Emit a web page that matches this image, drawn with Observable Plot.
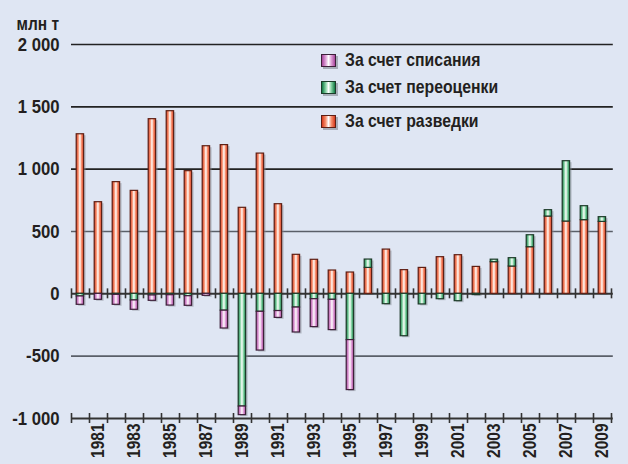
<!DOCTYPE html>
<html><head><meta charset="utf-8">
<script src="https://cdn.jsdelivr.net/npm/d3@7"></script>
<script src="https://cdn.jsdelivr.net/npm/@observablehq/plot@0.6"></script>
<style>
html,body{margin:0;padding:0;background:#dfe6f3;}
#wrap{position:relative;width:628px;height:464px;overflow:hidden;}
.leg{position:absolute;left:321px;height:22px;font:bold 19px "Liberation Sans",Arial,sans-serif;color:#231f20;display:flex;align-items:center;white-space:nowrap}
.sw{width:13px;height:11px;border:1px solid #333;margin-right:9px;box-shadow:2px 2px 0 rgba(120,125,135,.55);flex:none}
.lt{display:inline-block;transform:scaleX(0.83);transform-origin:left center}
</style></head><body><div id="wrap"></div>
<script>
// Categories
const years = [1980,1981,1982,1983,1984,1985,1986,1987,1988,1989,1990,1991,1992,1993,1994,1995,1996,1997,1998,1999,2000,2001,2002,2003,2004,2005,2006,2007,2008,2009];
// За счет разведки (exploration), млн т
const exploration = [1280,735,896,826,1401,1465,984,1184,1193,690,1125,719,313,273,187,171,208,355,190,208,294,310,216,254,219,374,620,580,591,577];
// За счет переоценки (revaluation)
const revaluation = [-21,0,-8,-53,-13,-11,-19,0,-135,-904,-144,-138,-110,-43,-48,-371,67,-83,-340,-85,-43,-59,-10,20,67,96,51,484,112,38];
// За счет списания (write-off)
const writeoff = [-67,-48,-80,-75,-43,-83,-77,-16,-143,-69,-311,-55,-200,-224,-243,-401,0,0,0,0,0,0,0,0,0,0,0,0,0,0];

const yTickValues = [2000,1500,1000,500,0,-500,-1000];
const yTickLabels = ["2 000","1 500","1 000","500","0","-500","-1 000"];
const labelYears = [1981,1983,1985,1987,1989,1991,1993,1995,1997,1999,2001,2003,2005,2007,2009];
const legendLabels = ["За счет списания","За счет переоценки","За счет разведки"];
const unitLabel = "млн т";

const palette = {
  expl: {edge:"#d63a1e", mid:"#f6906e", stroke:"#5e1f14"},
  reval:{edge:"#107843", mid:"#84d1a2", stroke:"#1d3b29"},
  wo:   {edge:"#a8449a", mid:"#dd9fd6", stroke:"#3d2039"}
};

const series = [
  {key:"expl", values: exploration},
  {key:"reval", values: revaluation},
  {key:"wo", values: writeoff}
];
const rows = [];
years.forEach((yr, i) => {
  let pos = 0, neg = 0;
  for (const s of series) {
    const v = s.values[i];
    if (!v) continue;
    if (v > 0) { rows.push({year: yr, key: s.key, y1: pos, y2: pos + v}); pos += v; }
    else { rows.push({year: yr, key: s.key, y1: neg, y2: neg + v}); neg += v; }
  }
});
const boundaries = years.concat([years[years.length - 1] + 1]);
const font = '"Liberation Sans",Arial,sans-serif';

const chart = Plot.plot({
  width: 628, height: 464,
  marginLeft: 71, marginRight: 17, marginTop: 44, marginBottom: 46,
  x: {type: "linear", domain: [1980, 2010], axis: null},
  y: {domain: [-1000, 2000], axis: null},
  color: {type: "identity"},
  style: {background: "transparent", fontFamily: font, color: "#231f20"},
  marks: [
    Plot.ruleY(yTickValues.filter(d => d !== 0 && d !== -1000), {y: d => d, x1: 1980, x2: 2010.1, stroke: d => Math.abs(d) === 500 ? "#5a5f68" : "#222", strokeWidth: 1.6}),
    Plot.rect(rows, {x1: "year", x2: d => d.year + 1, y1: "y1", y2: "y2", insetLeft: 5.2, insetRight: 5.4, fill: "#8b919c", fillOpacity: 0.5, dx: 2, dy: 1.5}),
    Plot.ruleY([0, -1000], {y: d => d, x1: 1980, x2: 2010.1, stroke: "#333", strokeWidth: 2}),
    Plot.ruleX(boundaries, {x: d => d, y1: -40, y2: 40, stroke: "#333", strokeWidth: 1.6}),
    Plot.ruleX(boundaries, {x: d => d, y1: -1040, y2: -960, stroke: "#333", strokeWidth: 1.6}),
    Plot.rect(rows, {x1: "year", x2: d => d.year + 1, y1: "y1", y2: "y2", insetLeft: 5.2, insetRight: 5.4,
      fill: d => `url(#g-${d.key})`, stroke: d => palette[d.key].stroke, strokeWidth: 1.2}),
    Plot.text(yTickValues, {x: 1980, y: d => d, text: (d, i) => yTickLabels[i], textAnchor: "end", dx: -12, fontSize: 19, fontWeight: "bold", fill: "#231f20"}),
    Plot.text(labelYears, {x: d => d + 0.5, y: -1000, text: d => String(d), rotate: -90, textAnchor: "end", dy: 5, fontSize: 18, fontWeight: "bold", fill: "#231f20"}),
    Plot.text([unitLabel], {frameAnchor: "top-left", textAnchor: "start", dx: -55, dy: -27, fontSize: 18, fontWeight: "bold", fill: "#231f20"})
  ]
});

const defs = d3.select(chart).insert("defs", ":first-child");
for (const [key, c] of Object.entries(palette)) {
  const g = defs.append("linearGradient").attr("id", "g-" + key).attr("x1", 0).attr("x2", 1).attr("y1", 0).attr("y2", 0);
  [[0, c.edge], [0.28, c.mid], [0.5, "#ffffff"], [0.72, c.mid], [1, c.edge]].forEach(([o, col]) =>
    g.append("stop").attr("offset", o).attr("stop-color", col));
}

// condense the text horizontally to mimic the narrow bold typeface
function condense(group, s) {
  d3.select(group).selectAll("text").each(function() {
    const t = this.getAttribute("transform");
    if (t) this.setAttribute("transform", t + ` scale(${s},1)`);
    else {
      const x = +this.getAttribute("x") || 0, y = +this.getAttribute("y") || 0;
      this.removeAttribute("x"); this.removeAttribute("y");
      this.setAttribute("transform", `translate(${x},${y}) scale(${s},1)`);
    }
  });
}
const textGroups = chart.querySelectorAll('g[aria-label="text"]');
const scales = [0.88, 0.86, 0.86];
textGroups.forEach((g, i) => condense(g, scales[i] ?? 0.85));

const wrap = document.getElementById("wrap");
wrap.appendChild(chart);

const legendKeys = ["wo", "reval", "expl"];
const legendTops = [49, 76, 110];
legendKeys.forEach((k, i) => {
  const c = palette[k];
  const div = document.createElement("div");
  div.className = "leg";
  div.style.top = legendTops[i] + "px";
  const sw = document.createElement("span");
  sw.className = "sw";
  sw.style.background = `linear-gradient(to right, ${c.edge}, ${c.mid} 28%, #fff 50%, ${c.mid} 72%, ${c.edge})`;
  sw.style.borderColor = c.stroke;
  div.appendChild(sw);
  const t = document.createElement("span");
  t.className = "lt";
  t.textContent = legendLabels[i];
  div.appendChild(t);
  wrap.appendChild(div);
});
</script></body></html>
